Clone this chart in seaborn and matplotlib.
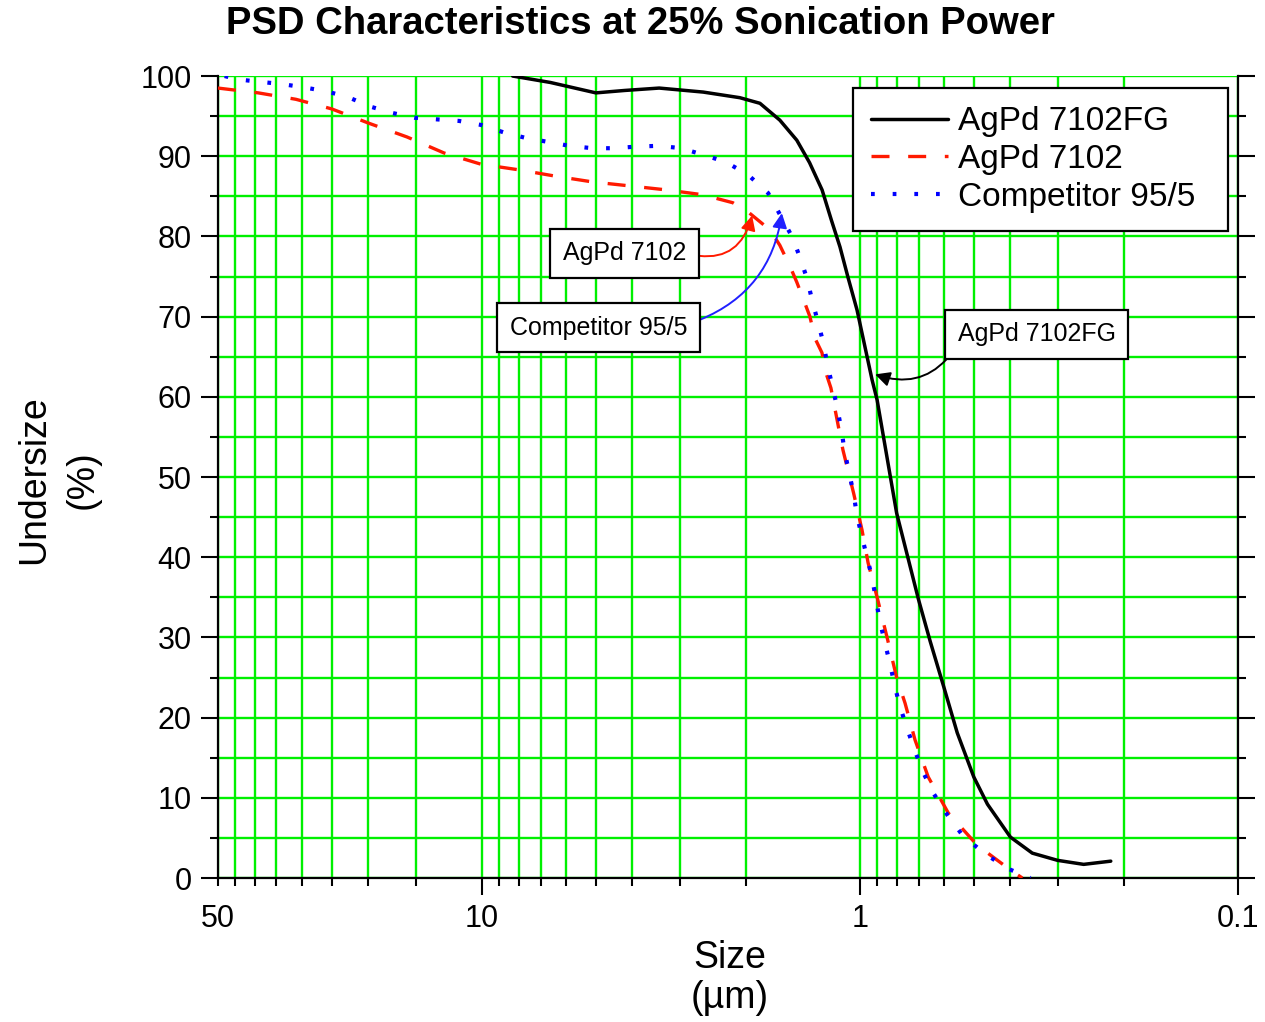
import matplotlib
matplotlib.use("Agg")
import pandas as pd
import matplotlib.pyplot as plt
import seaborn as sns
from matplotlib.ticker import FixedLocator, FixedFormatter, FuncFormatter, MultipleLocator

# AgPd 7102FG (black, solid)
FG_SIZE = [8.3, 6.6, 5.0, 4.2, 3.4, 2.6, 2.08, 1.84, 1.63, 1.47, 1.36, 1.26, 1.19,
           1.13, 1.076, 1.018, 0.970, 0.929, 0.901, 0.80, 0.70, 0.652, 0.60, 0.553,
           0.50, 0.46, 0.40, 0.35, 0.30, 0.256, 0.217]
FG_UNDER = [100.0, 99.2, 97.9, 98.2, 98.5, 98.0, 97.3, 96.6, 94.5, 92.0, 89.2, 85.8, 82.0,
            78.7, 74.9, 70.8, 66.2, 62.1, 59.6, 45.5, 34.7, 29.5, 23.8, 18.1,
            12.6, 9.2, 5.1, 3.1, 2.2, 1.7, 2.1]

# AgPd 7102 (red, dashed)
STD_SIZE = [50.0, 39.1, 31.1, 25.0, 19.9, 15.8, 12.6, 10.06, 7.98, 6.37, 5.11, 4.07,
            3.25, 2.61, 2.17, 1.96, 1.73, 1.63, 1.53, 1.47, 1.40, 1.357, 1.316, 1.261,
            1.231, 1.194, 1.11, 1.04, 0.988, 0.952, 0.901, 0.848, 0.80, 0.760, 0.715,
            0.660, 0.584, 0.490, 0.400, 0.372]
STD_UNDER = [98.5, 97.9, 97.1, 95.9, 94.1, 92.4, 90.4, 89.0, 88.3, 87.5, 86.8, 86.3,
             85.8, 85.2, 84.2, 82.9, 80.8, 78.9, 76.2, 74.3, 71.7, 70.0, 67.3, 65.5,
             63.0, 61.1, 53.4, 48.0, 43.4, 39.3, 35.0, 30.0, 25.0, 21.8, 17.2,
             12.6, 8.1, 4.1, 1.0, 0.0]

# Competitor 95/5 (blue, dotted)
COMP_SIZE = [48.0, 44.7, 39.1, 33.9, 29.7, 25.9, 22.7, 19.8, 17.3, 15.1, 13.2, 11.5,
             10.06, 8.80, 7.69, 6.72, 5.88, 5.11, 4.47, 3.91, 3.41, 2.97, 2.61, 2.27,
             1.98, 1.75, 1.51, 1.44, 1.38, 1.34, 1.29, 1.25, 1.22, 1.18, 1.15, 1.12,
             1.10, 1.07, 1.04, 1.02, 0.988, 0.958, 0.929, 0.907, 0.885, 0.859, 0.832,
             0.808, 0.783, 0.750, 0.715, 0.681, 0.640, 0.588, 0.533, 0.466, 0.408, 0.354]
COMP_UNDER = [100.0, 99.6, 99.3, 99.0, 98.6, 98.1, 97.4, 96.2, 95.4, 94.8, 94.6, 94.4,
              93.9, 93.0, 92.3, 91.8, 91.3, 91.0, 91.0, 91.2, 91.3, 91.0, 90.2, 89.3,
              87.7, 85.4, 79.9, 77.3, 74.7, 72.1, 69.2, 66.7, 64.0, 61.1, 58.7, 55.9,
              53.4, 50.6, 48.0, 45.3, 42.5, 40.0, 37.4, 34.7, 31.9, 29.3, 26.6,
              23.8, 21.3, 18.6, 15.8, 13.2, 10.6, 7.9, 5.2, 3.0, 1.2, 0.0]

X_MAJOR = [10, 1, 0.1]
X_MAJOR_LABELS = ["10", "1", "0.1"]
X_MINOR = [50, 45, 40, 35, 30, 25, 20, 15, 9, 8, 7, 6, 5, 4, 3, 2,
           0.9, 0.8, 0.7, 0.6, 0.5, 0.4, 0.3, 0.2]

GREEN = "#00f000"
RED = "#ff1a00"
BLUE = "#0000ff"

sns.set_style("ticks")
plt.rcParams["font.family"] = ["Liberation Sans", "DejaVu Sans"]
for key in ["text.color", "axes.labelcolor", "xtick.color", "ytick.color"]:
    plt.rcParams[key] = "black"

fig = plt.figure(figsize=(12.65, 10.22), dpi=100)
ax = fig.add_axes([0.1723, 0.1409, 0.8063, 0.7847])

fg = pd.DataFrame({"size": FG_SIZE, "undersize": FG_UNDER})
std = pd.DataFrame({"size": STD_SIZE, "undersize": STD_UNDER})
comp = pd.DataFrame({"size": COMP_SIZE, "undersize": COMP_UNDER})

sns.lineplot(data=fg, x="size", y="undersize", ax=ax, sort=False, estimator=None,
             color="black", linewidth=2.5, label="AgPd 7102FG", zorder=4)
sns.lineplot(data=std, x="size", y="undersize", ax=ax, sort=False, estimator=None,
             color=RED, linewidth=2.4, label="AgPd 7102", zorder=4)
sns.lineplot(data=comp, x="size", y="undersize", ax=ax, sort=False, estimator=None,
             color=BLUE, linewidth=3.0, label="Competitor 95/5", zorder=5)
ax.lines[1].set_linestyle((0, (5.4, 5.6)))
ax.lines[2].set_linestyle((0, (0.9, 4.3)))

ax.set_xscale("log")
ax.set_xlim(50, 0.1)
ax.set_ylim(0, 100)
ax.xaxis.set_major_locator(FixedLocator(X_MAJOR))
ax.xaxis.set_major_formatter(FixedFormatter(X_MAJOR_LABELS))
ax.xaxis.set_minor_locator(FixedLocator(X_MINOR))
ax.xaxis.set_minor_formatter(FuncFormatter(lambda v, p: "50" if abs(v - 50) < 1e-6 else ""))
ax.yaxis.set_major_locator(MultipleLocator(10))
ax.yaxis.set_minor_locator(MultipleLocator(5))

ax.set_axisbelow(True)
ax.grid(which="both", color=GREEN, lw=1.7)

for side in ["left", "bottom", "right"]:
    ax.spines[side].set_color("black")
    ax.spines[side].set_linewidth(1.6)
ax.spines["top"].set_visible(False)

ax.tick_params(axis="both", which="both", direction="out", color="black", width=1.5,
               labelsize=22)
ax.tick_params(axis="both", which="major", length=12, pad=7)
ax.tick_params(axis="both", which="minor", length=6, pad=13)
ax.tick_params(axis="y", which="both", left=True, right=True, labelright=False)
ax.tick_params(axis="x", which="both", top=False)
ax.set_xlabel("")
ax.set_ylabel("")

leg = ax.legend(loc="upper left", bbox_to_anchor=(0.6225, 0.81, 0.3675, 0.175),
                mode="expand", fontsize=24, frameon=True, fancybox=False,
                framealpha=1, edgecolor="black", handlelength=2.3,
                handletextpad=0.3, labelspacing=0.2, borderpad=0.55,
                borderaxespad=0)
leg.get_frame().set_linewidth(1.6)
leg.set_zorder(10)

box = dict(boxstyle="square,pad=0.5", fc="white", ec="black", lw=1.6)
ax.annotate("AgPd 7102", xy=(1.93, 82.6), xytext=(4.2, 77.9), fontsize=18,
            ha="center", va="center", bbox=box, zorder=8,
            arrowprops=dict(arrowstyle="-|>", color=RED, lw=1.4,
                            connectionstyle="arc3,rad=0.5", relpos=(1, 0.5),
                            mutation_scale=22, shrinkA=0, shrinkB=0))
ax.annotate("Competitor 95/5", xy=(1.61, 82.9), xytext=(4.92, 68.6), fontsize=18,
            ha="center", va="center", bbox=box, zorder=8,
            arrowprops=dict(arrowstyle="-|>", color="#2020ff", lw=1.4,
                            connectionstyle="arc3,rad=0.3", relpos=(1.03, 0.72),
                            mutation_scale=22, shrinkA=0, shrinkB=0))
ax.annotate("AgPd 7102FG", xy=(0.912, 62.8), xytext=(0.341, 67.8), fontsize=18,
            ha="center", va="center", bbox=box, zorder=8,
            arrowprops=dict(arrowstyle="-|>", color="black", lw=1.4,
                            connectionstyle="arc3,rad=-0.4", relpos=(0, 0.08),
                            mutation_scale=22, shrinkA=0, shrinkB=0))

fig.text(0.506, 0.977, "PSD Characteristics at 25% Sonication Power",
         ha="center", va="center", fontsize=27.5, fontweight="bold")
fig.text(58 / 1265, 1 - 480 / 1022, "Undersize\n(%)", rotation=90, ha="center",
         va="center", multialignment="center", fontsize=27, linespacing=1.45)
fig.text(730 / 1265, 1 - 978 / 1022, "Size\n(µm)", ha="center", va="center",
         multialignment="center", fontsize=27, linespacing=1.15)

fig.savefig("out.png", dpi=100)
